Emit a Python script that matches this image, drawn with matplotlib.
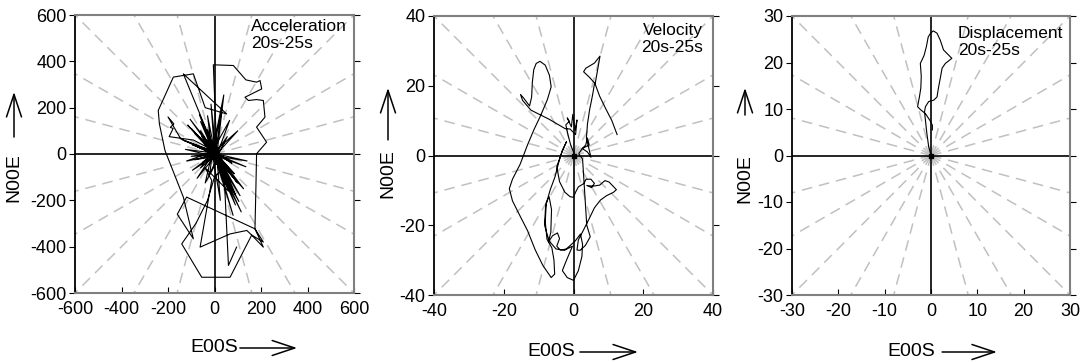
import numpy as np
import matplotlib
matplotlib.use('Agg')
import matplotlib.pyplot as plt
import matplotlib.transforms as mtrans

plt.rcParams['font.family'] = ['Liberation Sans', 'DejaVu Sans']
plt.rcParams['axes.unicode_minus'] = False

# ---- data (E00S, N00E) ----
acc_e = [0, -100, 10, -65, -5, -135, 15, -85, 5, -30, -10, -125, 20, 65, -10, -55, 25, 90, 0,
         -15, 10, 105, -10, -95, 15, 75, -5, -60, 20, 125, -15, -145, -200, -175, -190, -178,
         -195, -90, 5, 30, -10, -75, 10, 85, -5, -105, 15, 55, 0, 115, -10, -40, 20, 100, -5,
         -120, 10, 40, -10, -20, 15, 135, -5, -95, 10, 65, -10, -60, 5, 80, -5, -30, 10, 25,
         -10, -115, 5, 100, -5, -50, 15, 140, 10,
         -5, 81, 135, 181, 196, 203, 131, 146, 181, 210, 217, 181, 224, 181, 178, 174, 210, 160,
         139, 67, -62, -12, -40,
         60, -5, -70, 10, 90, -10, -30, 15, 110, -5, -100, 10, 30, -10, -60, 5, 95, 10,
         -134, 52, -40, -91, -177, -242, -237, -213, -134, -91, -160, -120, 174, 210, 160, 67,
         -55, -141, -80, -30, 0, 40, 60, 95]
acc_n = [0, 110, -5, 170, 10, 60, 5, -25, -10, 165, 5, 20, -15, -125, 5, 75, -15, -175, 10,
         215, -20, -205, -5, -70, 0, -40, 10, 140, -10, -150, 5, 65, 160, 130, 115, 110,
         75, 60, 10, 185, -5, -105, 0, -85, 10, 150, -5, 75, 0, -250, 5, -125, -15, -125, 10,
         -30, -5, 255, 5, -85, -10, -55, 5, 40, -5, 145, 10, -60, -5, -265, 10, 105, -10, -200,
         5, 125, -5, 100, 5, -35, -10, -30, 0,
         385, 382, 320, 310, 317, 281, 245, 231, 235, 231, 159, 116, 51, 1, -150, -323, -402, -350,
         -330, -345, -402, -114, -60,
         -160, 5, 30, -10, -220, 5, 60, -10, -180, 5, -10, -5, -90, 10, 100, -5, -120, -5,
         346, 173, 200, 346, 332, 188, 130, 15, -186, -366, -260, -186, -323, -380, -350, -532,
         -532, -388, -300, -200, -100, -60, -481, -402]

vel_e = [0.2, -0.8, -1.6, -2.2, -1.2, -1.8, -0.6, -0.2, 0.4, 1.0, 0.6, -1.0, -2.4,
         -7.0, -12.2, -14.6, -15.2, -14.4, -12.6, -12.0, -11.8, -11.4, -10.7, -9.6, -8.1, -6.9,
         -6.4, -7.5, -9.4, -11.3, -13.2, -15.3, -17.5, -18.4, -17.5, -15.5, -13.2, -11.0, -8.8,
         -6.4, -5.4, -5.6, -6.2,
         -7.6, -8.1, -7.8, -7.0, -6.3, -6.5, -7.2, -6.0, -4.6, -4.0, -4.8, -3.8, -1.9, -0.3,
         -2.0, -3.2, -1.8, 0.0, 1.4, 2.4, 2.6, 2.0,
         0.5, -2.5, -5.0, -7.0, -8.3, -8.0, -6.7, -5.3, -4.3, -3.2, -2.0,
         -3.5, -4.8, -4.0, -2.5, -1.0, 0.0, 0.6, 1.4, 3.0, 3.6, 5.0, 6.0, 5.2, 3.8, 5.5, 7.5,
         9.0, 10.2, 12.3, 11.4, 9.5, 7.7, 6.0, 4.8, 2.9, 1.4, 1.0, 1.9, 3.4, 4.8,
         3.8, 2.6, 1.5, 2.5, 3.5, 4.0, 4.5, 2.5, 4.0, 5.0, 3.7, 4.0, 4.6, 5.5, 6.0, 6.3, 4.5, 2.9,
         3.5, 6.0, 7.6, 7.0, 6.2, 7.5, 9.2, 11.0, 12.5]
vel_n = [0.5, 3.0, 6.0, 8.8, 9.8, 10.8, 8.2, 11.8, 7.2, 10.2, 6.0, 7.6, 7.7,
         10.4, 13.0, 15.8, 17.5, 16.6, 14.2, 16.8, 21.0, 24.6, 26.4, 27.0, 25.9, 23.0,
         19.7, 16.0, 11.5, 7.5, 3.0, -2.5, -6.8, -9.5, -13.0, -17.0, -21.5, -27.0, -31.5,
         -35.0, -34.0, -30.0, -26.5,
         -24.0, -19.0, -13.5, -11.8, -15.5, -22.0, -24.8, -23.0, -22.2, -23.8, -26.0, -27.1, -26.8, -26.0,
         -30.0, -33.0, -35.0, -35.8, -33.0, -29.0, -25.5, -22.5,
         -24.5, -27.2, -26.8, -24.5, -20.0, -14.5, -9.9, -6.1, -2.2, 1.5, 4.0,
         0.5, -3.2, -7.5, -10.5, -11.8, -12.0, -10.5, -9.0, -8.0, -6.8, -6.8, -8.0, -9.2, -8.6, -8.8, -8.5,
         -7.2, -7.6, -9.8, -10.6, -11.5, -12.8, -15.0, -17.5, -21.3, -24.2, -27.1, -27.2, -25.8, -23.3,
         -20.0, -1.0, 0.5, 2.0, 3.0, 5.0, 3.0, 2.0, 1.0, -0.5, 5.0, 9.0, 13.0, 17.5, 20.5, 20.5, 22.5, 24.0,
         25.0, 26.5, 28.5, 25.0, 20.5, 17.0, 13.5, 10.0, 6.0]

disp_e = [0, -0.5, -0.9, -1.2, -1.4, -1.2, -0.5, 0.6, 1.3, 1.6, 2.0, 2.4, 3.1, 4.5, 2.7,
          2.0, 1.3, 0.5, -0.1, -0.6, -1.0, -1.5, -2.3, -2.1, -2.2, -2.5, -2.9, -2.2, -1.2,
          -0.2, 0.3, 0.3]
disp_n = [0, 1.9, 4.8, 7.6, 9.4, 10.5, 11.6, 11.9, 12.6, 14.5, 16.6, 18.8, 19.8, 20.9, 22.7,
          24.8, 26.3, 26.8, 26.3, 25.5, 23.4, 21.5, 19.8, 17.0, 14.5, 12.6, 10.5, 9.8, 9.0,
          7.5, 6.5, 5.5]

panels = [
    dict(e=acc_e, n=acc_n, lim=600, step=200, text='Acceleration\n20s-25s',
         pos=[75, 15, 279, 278], tx=0.63, ty=0.985, ha='left',
         ylab=(-61, 0.417), yarr=(0.561, 0.723), xlab=(0.498, -55), xarr=(0.591, 0.796)),
    dict(e=vel_e, n=vel_n, lim=40, step=20, text='Velocity\n20s-25s',
         pos=[434, 16, 279, 279], tx=0.965, ty=0.975, ha='right',
         ylab=(-46, 0.434), yarr=(0.556, 0.742), xlab=(0.42, -57), xarr=(0.523, 0.731)),
    dict(e=disp_e, n=disp_n, lim=30, step=10, text='Displacement\n20s-25s',
         pos=[792, 16, 278, 279], tx=0.597, ty=0.965, ha='left',
         ylab=(-47, 0.416), yarr=(0.645, 0.742), xlab=(0.428, -57), xarr=(0.54, 0.737)),
]

W, H = 1084, 362
fig = plt.figure(figsize=(W / 100, H / 100), dpi=100)
arrow_props = dict(arrowstyle='->,head_length=0.9,head_width=0.3', lw=1.1,
                   color='black', mutation_scale=18, shrinkA=0, shrinkB=0)

for p in panels:
    l, t, w, h = p['pos']
    ax = fig.add_axes([l / W, (H - t - h) / H, w / W, h / H])
    lim = p['lim']

    # radial dashed guide lines every 15 degrees
    for ang in range(0, 360, 15):
        if ang % 90 == 0:
            continue
        a = np.radians(ang)
        ax.plot([0, 3 * lim * np.cos(a)], [0, 3 * lim * np.sin(a)], color='#c0c0c0',
                lw=1.1, linestyle=(0, (7, 4.5)), zorder=1)
    ax.axhline(0, color='black', lw=1.2, zorder=2)
    ax.axvline(0, color='black', lw=1.2, zorder=2)

    ax.plot(p['e'], p['n'], color='black', lw=0.8, zorder=3)
    ax.plot([0], [0], marker='s', ms=2.5, color='black', zorder=4)

    ax.set_xlim(-lim, lim)
    ax.set_ylim(-lim, lim)
    ticks = np.arange(-lim, lim + 1, p['step'])
    ax.set_xticks(ticks)
    ax.set_yticks(ticks)
    ax.tick_params(axis='x', direction='in', length=4, labelsize=13, pad=6, color='black')
    ax.tick_params(axis='y', direction='out', length=4, labelsize=13, pad=2,
                   right=True, color='black')
    for side in ['top', 'right', 'bottom']:
        ax.spines[side].set_color('#808080')
        ax.spines[side].set_linewidth(1.5)
    ax.spines['left'].set_color('black')
    ax.spines['left'].set_linewidth(1.3)

    ax.text(p['tx'], p['ty'], p['text'], transform=ax.transAxes, ha=p['ha'], va='top',
            fontsize=12.5, linespacing=1.15)

    # axis labels with arrows
    dx, fy = p['ylab']
    fx, dy = p['xlab']
    trans_y = mtrans.offset_copy(ax.transAxes, fig=fig, x=dx, y=0, units='dots')
    trans_x = mtrans.offset_copy(ax.transAxes, fig=fig, x=0, y=dy, units='dots')
    ax.text(0, fy, 'N00E', transform=trans_y, rotation=90, ha='center', va='center',
            fontsize=14)
    ax.text(fx, 0, 'E00S', transform=trans_x, ha='center', va='center', fontsize=14)
    ax.annotate('', xy=(0, p['yarr'][1]), xycoords=trans_y, xytext=(0, p['yarr'][0]),
                textcoords=trans_y, arrowprops=arrow_props, annotation_clip=False)
    ax.annotate('', xy=(p['xarr'][1], 0), xycoords=trans_x, xytext=(p['xarr'][0], 0),
                textcoords=trans_x, arrowprops=arrow_props, annotation_clip=False)

fig.savefig('out.png', dpi=100)
